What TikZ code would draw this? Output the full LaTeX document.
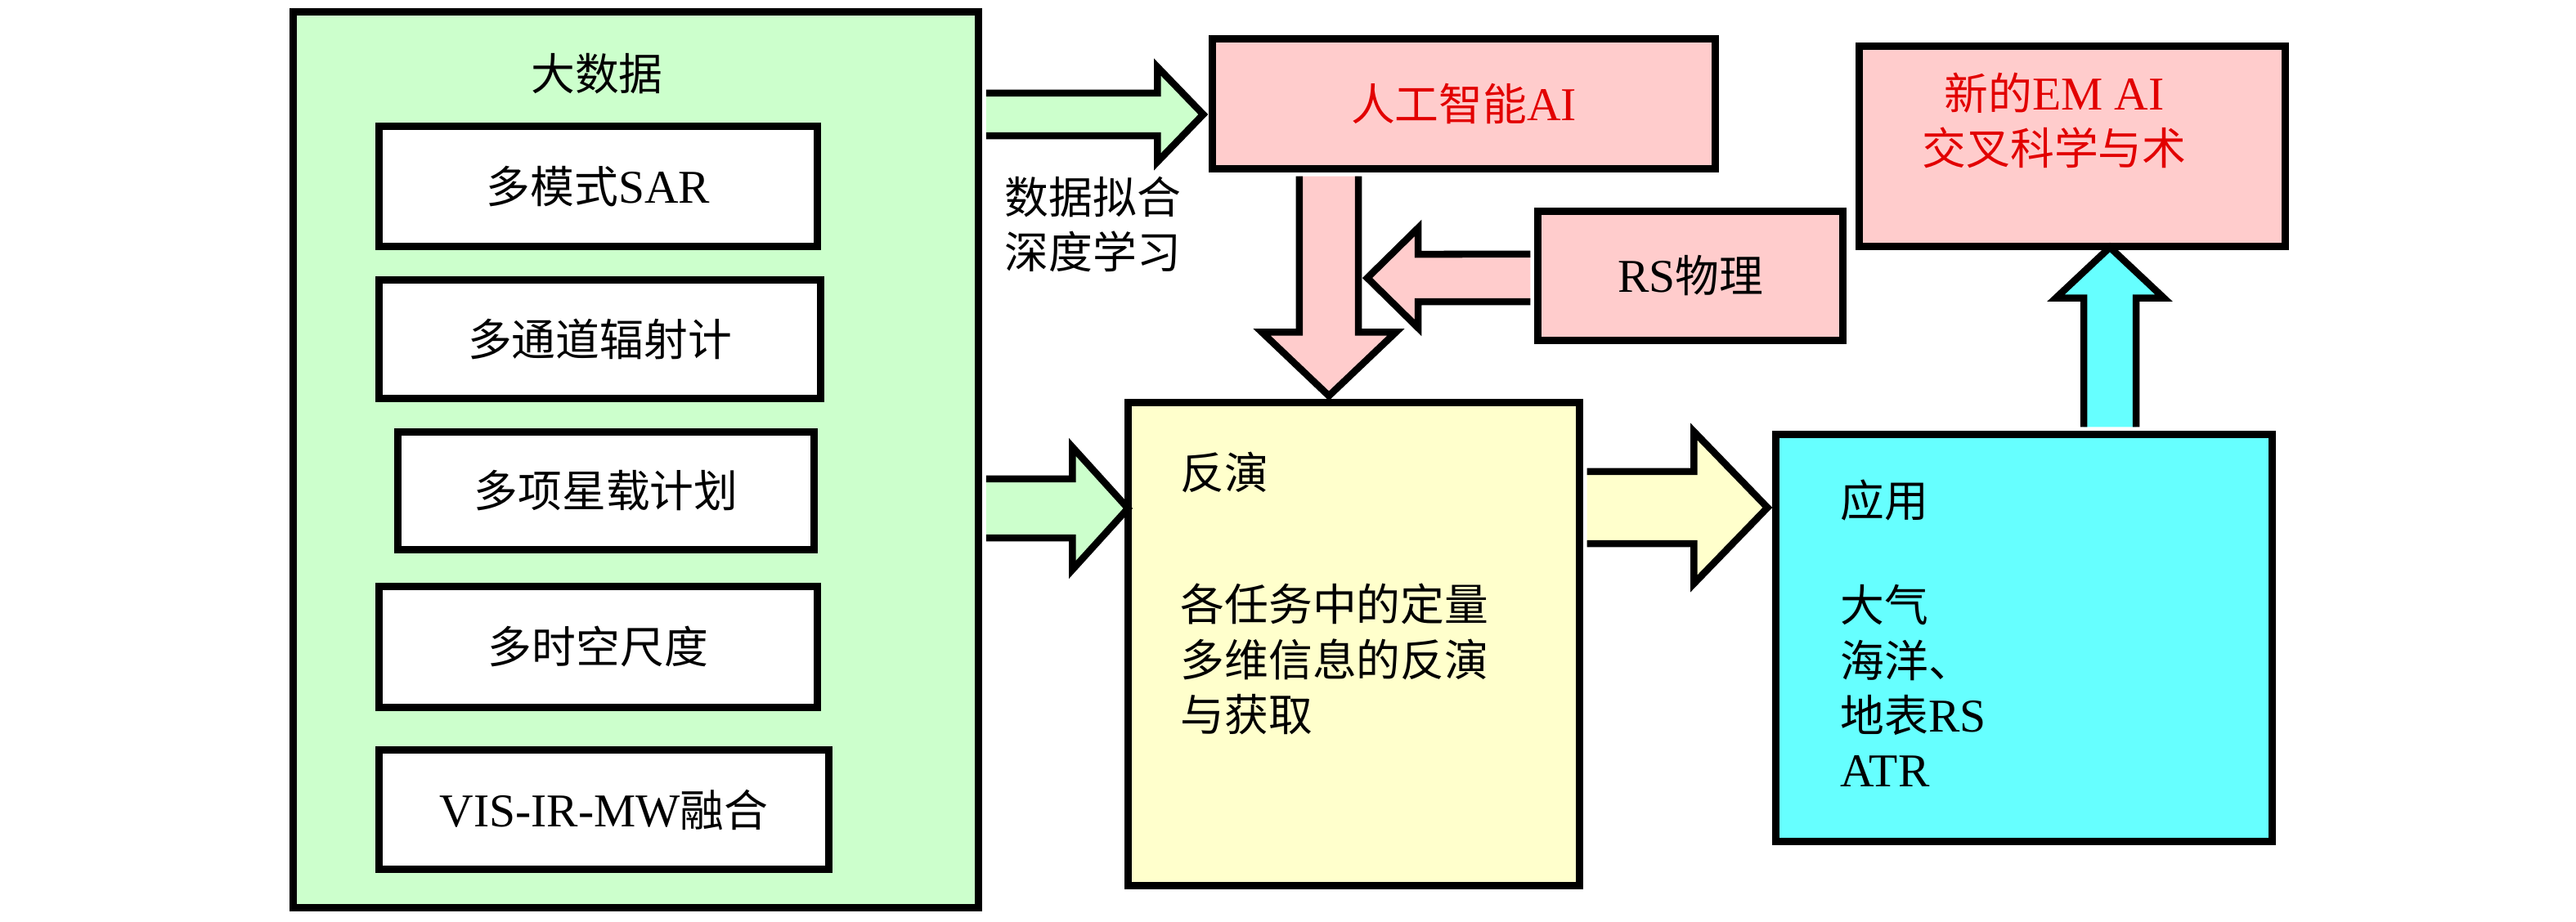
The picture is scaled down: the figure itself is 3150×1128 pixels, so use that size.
\documentclass[tikz,border=0pt]{standalone}
\usepackage{fontspec}
\setmainfont[Scale=1.07]{Liberation Serif}
\newfontfamily\cjk{Noto Sans CJK SC}
\usetikzlibrary{calc}
\newcommand\zh[1]{{\cjk #1}}
\definecolor{gfill}{RGB}{204,255,204}
\definecolor{pfill}{RGB}{255,204,204}
\definecolor{yfill}{RGB}{255,255,204}
\definecolor{cfill}{RGB}{102,255,255}
\definecolor{redtxt}{RGB}{226,0,0}
% #1 start, #2 tip, #3 shaft half width, #4 head half width, #5 head length, #6 fill colour
\newcommand\blockarrow[6]{%
  \coordinate (ba-B) at ($(#2)!#5!(#1)$);
  \fill[#6] ($(#1)!#3!90:(#2)$) -- ($(ba-B)!#3!90:(#2)$) -- ($(ba-B)!#4!90:(#2)$) -- (#2)
     -- ($(ba-B)!#4!-90:(#2)$) -- ($(ba-B)!#3!-90:(#2)$) -- ($(#1)!#3!-90:(#2)$) -- cycle;
  \draw[arrowline] ($(#1)!#3!90:(#2)$) -- ($(ba-B)!#3!90:(#2)$) -- ($(ba-B)!#4!90:(#2)$) -- (#2)
     -- ($(ba-B)!#4!-90:(#2)$) -- ($(ba-B)!#3!-90:(#2)$) -- ($(#1)!#3!-90:(#2)$);
}
\begin{document}
\begin{tikzpicture}[x=0.01cm,y=-0.01cm,
  box/.style={draw=black,line width=0.09cm,rectangle,inner sep=0pt},
  arrowline/.style={draw=black,line width=0.085cm,line join=miter},
  txt/.style={inner sep=0pt,font=\fontsize{15.3}{19.1}\selectfont},
  every node/.style={font=\fontsize{15.3}{19.1}\selectfont}]
\useasboundingbox (0,0) rectangle (3150,1128);
\fill[white] (0,0) rectangle (3150,1128);

% boxes
\node[box,fill=gfill,minimum width=8.38cm,minimum height=10.96cm] (big) at (777.5,562.5) {};
\node[txt] (tbig) at (730,90) {\zh{大数据}};
\node[box,fill=white,minimum width=5.36cm,minimum height=1.47cm] (b1) at (731.5,228) {\zh{多模式}SAR};
\node[box,fill=white,minimum width=5.40cm,minimum height=1.45cm] (b2) at (733.5,415) {\zh{多通道辐射计}};
\node[box,fill=white,minimum width=5.09cm,minimum height=1.44cm] (b3) at (741,600.5) {\zh{多项星载计划}};
\node[box,fill=white,minimum width=5.36cm,minimum height=1.48cm] (b4) at (731.5,791.5) {\zh{多时空尺度}};
\node[box,fill=white,minimum width=5.50cm,minimum height=1.46cm] (b5) at (738.5,990.5) {VIS-IR-MW\zh{融合}};

\node[box,fill=pfill,minimum width=6.15cm,minimum height=1.59cm,text=redtxt] (ai) at (1790,127) {\zh{人工智能}AI};
\node[box,fill=pfill,minimum width=3.73cm,minimum height=1.58cm] (rs) at (2067,337.5) {RS\zh{物理}};
\node[box,fill=pfill,minimum width=5.21cm,minimum height=2.45cm] (em) at (2534,179) {};
\node[txt,align=center,text=redtxt] (tem) at (2512,147.5) {\zh{新的}EM AI\\\zh{交叉科学与术}};

\node[box,fill=yfill,minimum width=5.52cm,minimum height=5.91cm] (inv) at (1655.5,788) {};
\node[txt,anchor=west] (tinv1) at (1443,578) {\zh{反演}};
\node[txt,anchor=west,align=left] (tinv2) at (1443,806.5) {\zh{各任务中的定量}\\\zh{多维信息的反演}\\\zh{与获取}};

\node[box,fill=cfill,minimum width=6.07cm,minimum height=4.98cm] (app) at (2475,780.5) {};
\node[txt,anchor=west] (tapp1) at (2250,612) {\zh{应用}};
\node[txt,anchor=west,align=left] (tapp2) at (2250,839) {\zh{大气}\\\zh{海洋、}\\\zh{地表}RS\\ATR};

\node[txt,anchor=west,align=left] (tfit) at (1228,274.5) {\zh{数据拟合}\\\zh{深度学习}};

% arrow end points
\coordinate (a1s) at ($(big.east)+(4.5,-422.5)$);
\coordinate (a1t) at ($(ai.west)+(-6.5,13)$);
\coordinate (a2s) at ($(big.east)+(4.5,59.5)$);
\coordinate (a2t) at ($(inv.west)+(4.5,-166)$);
\coordinate (a3s) at ($(ai.south)+(-165,4.5)$);
\coordinate (a3t) at ($(inv.north)+(-30.5,-3.5)$);
\coordinate (a4s) at ($(rs.west)+(-4.5,2.5)$);
\coordinate (a4t) at ($(a3s)+(47,124.5)$);
\coordinate (a5s) at ($(inv.east)+(4.5,-167)$);
\coordinate (a5t) at ($(app.west)+(-5.5,-159.5)$);
\coordinate (a6s) at ($(app.north)+(105,-4.5)$);
\coordinate (a6t) at ($(em.south)+(46,-3.5)$);

\blockarrow{a1s}{a1t}{0.26cm}{0.58cm}{0.56cm}{gfill}
\blockarrow{a2s}{a2t}{0.36cm}{0.75cm}{0.68cm}{gfill}
\blockarrow{a3s}{a3t}{0.36cm}{0.82cm}{0.78cm}{pfill}
\blockarrow{a4s}{a4t}{0.29cm}{0.61cm}{0.62cm}{pfill}
\blockarrow{a5s}{a5t}{0.44cm}{0.93cm}{0.90cm}{yfill}
\blockarrow{a6s}{a6t}{0.32cm}{0.66cm}{0.62cm}{cfill}
\end{tikzpicture}
\end{document}
